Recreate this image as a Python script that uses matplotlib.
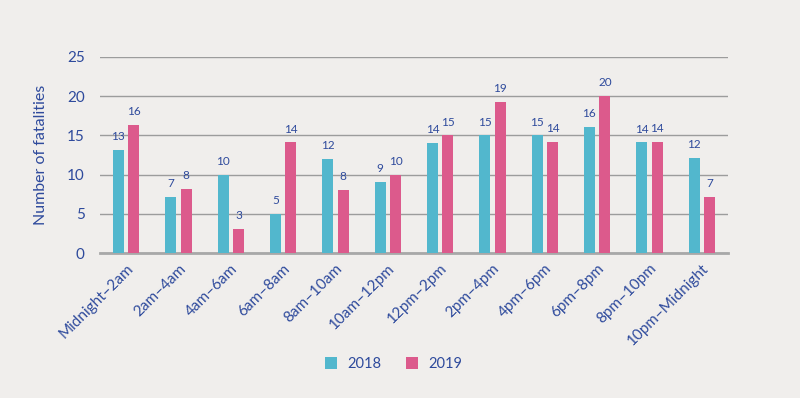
import matplotlib.pyplot as plt
import numpy as np

# Time-of-day groups and fatalities per year (bar heights)
periods = ['Midnight–2am', '2am–4am', '4am–6am', '6am–8am', '8am–10am', '10am–12pm',
           '12pm–2pm', '2pm–4pm', '4pm–6pm', '6pm–8pm', '8pm–10pm', '10pm–Midnight']
fatal_2018 = [13.2, 7.2, 10, 5, 12, 9.1, 14, 15, 15, 16.1, 14.1, 12.1]
fatal_2019 = [16.3, 8.2, 3.1, 14.1, 8, 10, 15, 19.3, 14.2, 20, 14.2, 7.1]

teal = '#52b7cd'
pink = '#dc5a8c'
navy = '#2e4a9c'
bg = '#f0eeec'

plt.rcParams['font.family'] = ['Lato', 'DejaVu Sans']

fig = plt.figure(figsize=(8, 3.98), dpi=100, facecolor=bg)
ax = fig.add_axes([0.125, 0.3643, 0.785, 0.4925])
ax.set_facecolor(bg)

x = np.arange(len(periods))
w = 0.21
off = 0.148
b1 = ax.bar(x - off, fatal_2018, w, color=teal, label='2018', zorder=3)
b2 = ax.bar(x + off, fatal_2019, w, color=pink, label='2019', zorder=3)

for bars, vals in ((b1, fatal_2018), (b2, fatal_2019)):
    for b, v in zip(bars, vals):
        ax.text(b.get_x() + b.get_width() / 2, v + 1.0, str(int(round(v))),
                ha='center', va='bottom', fontsize=8.5, color=navy)

ax.set_ylim(0, 25)
ax.set_xlim(-0.5, 11.5)
ax.set_yticks([0, 5, 10, 15, 20, 25])
ax.yaxis.grid(True, color='#9c9c9c', linewidth=1.0, zorder=0)
ax.set_axisbelow(True)
for s in ['top', 'right', 'left']:
    ax.spines[s].set_visible(False)
ax.spines['bottom'].set_color('#a8a8a8')
ax.spines['bottom'].set_linewidth(2)
ax.tick_params(axis='y', length=0, pad=11, labelsize=11, labelcolor=navy)
ax.tick_params(axis='x', length=0, pad=6, labelsize=11, labelcolor=navy)
ax.set_xticks(x)
ax.set_xticklabels(periods, rotation=45, ha='right', rotation_mode='anchor')
ax.set_ylabel('Number of fatalities', fontsize=11.5, color=navy, labelpad=14)

fig.legend(handles=[b1, b2], loc='center', bbox_to_anchor=(0.492, 0.085), ncol=2,
           frameon=False, fontsize=10.5, labelcolor=navy, handlelength=0.85,
           handleheight=0.85, columnspacing=1.7, handletextpad=0.7)

fig.savefig('out.png', dpi=100, facecolor=bg)
